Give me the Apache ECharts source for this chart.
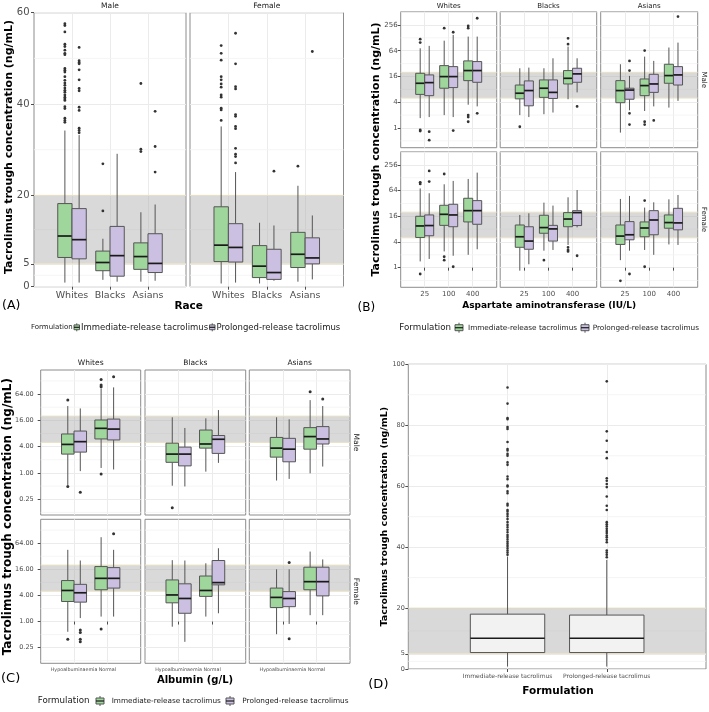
<!DOCTYPE html>
<html>
<head>
<meta charset="utf-8">
<script src="https://cdn.jsdelivr.net/npm/echarts@6/dist/echarts.min.js"></script>
<style>
html, body { margin: 0; padding: 0; background: #fff; }
#chart { width: 709px; height: 712px; }
</style>
</head>
<body>
<div id="chart"></div>
<script>
const FONT = 'DejaVu Sans';
const IR_FILL = '#9fd69b';
const PR_FILL = '#cbc0e1';
const ONE_FILL = '#f2f2f2';
const LINE = '#555555';
const TXT = '#4d4d4d';

// therapeutic range, ng/mL
const targetRange = [5, 20];

// (A) trough by race, facets Male / Female ; box = [lo, q1, median, q3, hi]
const raceCats = ['Whites', 'Blacks', 'Asians'];
const raceTicks = [0, 5, 20, 40, 60];
const raceMinor = [2.5, 12.5, 30, 50];
const raceBoxIR = [
	[[0.9, 6.4, 11.1, 18.2, 34.2], [1.5, 3.5, 5.3, 7.8, 10.5], [1.1, 3.8, 6.6, 9.6, 16.3]],
	[[0.7, 5.5, 9.1, 17.5, 35.1], [0.7, 2.0, 4.5, 9.0, 14.0], [1.1, 4.2, 7.1, 11.9, 22.1]]
];
const raceBoxPR = [
	[[0.9, 6.1, 10.3, 17.1, 33.2], [1.1, 2.3, 6.8, 13.2, 29.1], [1.3, 3.1, 5.1, 11.6, 18.0]],
	[[0.9, 5.4, 8.6, 13.8, 25.1], [1.3, 1.6, 3.1, 8.2, 13.4], [1.6, 5.0, 6.3, 10.7, 15.6]]
];
const raceOutIR = [
	[[57.6, 57.2, 55.8, 53.1, 52.6, 51.8, 51.1, 50.8, 47.8, 47.4, 47.0, 46.0, 45.2, 44.6, 44.1, 43.5, 43.0, 42.6, 42.0, 41.5, 41.1, 40.8, 39.4, 39.0, 36.9, 36.4, 36.0], [26.9, 16.6], [44.5, 30.1, 29.6]],
	[[52.8, 51.1, 49.6, 46.0, 45.3, 44.4, 43.7, 42.0, 41.5, 39.1, 38.7, 36.4], [], [26.4]]
];
const raceOutPR = [
	[[52.4, 49.5, 49.1, 48.8, 47.5, 45.3, 43.4, 42.9, 39.3, 38.6, 34.7, 34.2, 33.7], [], [38.4, 30.7, 25.1]],
	[[55.5, 48.8, 43.8, 43.3, 37.7, 37.3, 35.1, 34.6, 30.3, 29.0, 28.5, 27.1], [25.3], [51.5]]
];

// (B) trough by AST; facets: Male W/B/A, Female W/B/A
const astCats = ['25', '100', '400'];
const astTicks = [1, 4, 16, 64, 256];
const astMinor = [0.5, 2, 8, 32, 128, 512];
const astBoxIR = [
	[[1.7, 6.1, 11.1, 19.0, 73], [2.0, 8.5, 15.9, 28.7, 110], [3.5, 12.8, 22, 37, 137]],
	[[2.0, 4.8, 6.5, 10.1, 24.9], [2.1, 5.2, 8.5, 13.3, 24.9], [4.7, 10.7, 14.5, 22, 80]],
	[[0.78, 3.9, 7.5, 12.8, 30.9], [2.5, 5.7, 9.8, 14, 46.6], [3.0, 11.1, 16.8, 30.9, 76]],
	[[1.4, 5.1, 9.5, 16, 72], [2.4, 9.8, 17.8, 29, 90], [2.0, 11.8, 21.7, 42.3, 120]],
	[[0.85, 3.0, 5.3, 10, 17.2], [2.5, 6.4, 8.7, 16.9, 33.4], [3.4, 9.1, 13.8, 19.5, 44.6]],
	[[1.5, 3.5, 5.5, 10, 40.8], [2.6, 5.3, 8.5, 11.8, 25.6], [3.5, 8.4, 11.4, 17.2, 40]]
];
const astBoxPR = [
	[[1.8, 5.7, 11.5, 17.4, 83], [1.8, 8.8, 15.9, 27.2, 150], [3.2, 11.7, 22, 35.7, 137]],
	[[1.8, 3.3, 7.5, 12.6, 25.8], [2.3, 4.9, 6.8, 13.3, 42.6], [6.8, 11.7, 18.4, 24.9, 42.6]],
	[[2.6, 4.7, 7.7, 8.5, 16.5], [3.2, 6.8, 10.7, 18, 37], [4.3, 10.1, 17.4, 27.2, 99]],
	[[1.6, 5.6, 9.7, 17.2, 55.5], [1.9, 9.1, 17.2, 30.6, 108], [2.7, 10.4, 21.7, 37.3, 169]],
	[[1.2, 2.7, 4.2, 9.1, 18.8], [2.6, 4.2, 8.1, 9.8, 28.5], [8.8, 9.7, 19.5, 21.7, 66]],
	[[2.5, 4.5, 5.9, 12, 48], [2.0, 5.9, 13.1, 21.7, 34], [3.4, 7.7, 11.2, 24.6, 50.6]]
];
const astOutIR = [
	[[119, 99, 0.9, 0.85], [215], [243, 215, 2.0, 1.8, 1.4]],
	[[1.07], [], [125, 91]],
	[[], [64.5, 1.4, 1.2], []],
	[[100, 92, 0.71], [157, 1.8, 1.5], []],
	[[], [1.5], [3.0, 2.6, 2.4]],
	[[0.49], [37.3, 1.05], []]
];
const astOutPR = [
	[[0.82, 0.52], [173, 0.87], [367, 2.2]],
	[[], [], [3.2]],
	[[37, 22, 2.2, 1.2], [1.5], [402]],
	[[185, 104], [1.05], []],
	[[], [], [1.9]],
	[[0.71], [], []]
];

// (C) trough by albumin; facets: Male W/B/A, Female W/B/A
const albCats = ['Hypoalbuminaemia', 'Normal'];
const albTicks = [0.25, 1, 4, 16, 64];
const albMinor = [0.125, 0.5, 2, 8, 32, 128];
const albBoxIR = [
	[[0.53, 2.7, 4.5, 7.8, 34], [1.3, 6.0, 10.5, 16.3, 86]],
	[[0.51, 1.75, 2.7, 4.8, 18.8], [1.07, 3.7, 4.6, 9.6, 17.8]],
	[[0.67, 2.3, 3.7, 6.5, 18.8], [0.98, 3.5, 6.8, 10.9, 46.5]],
	[[0.58, 2.9, 5.2, 8.8, 45], [1.3, 5.4, 9.9, 18.5, 88]],
	[[0.76, 2.7, 4.1, 9.1, 26], [1.3, 3.8, 5.2, 11.2, 22]],
	[[0.51, 2.1, 3.6, 5.9, 16], [1.4, 5.4, 8.3, 17.9, 41]]
];
const albBoxPR = [
	[[1.1, 3.0, 5.2, 9.1, 30], [1.2, 5.7, 10.1, 17.1, 91]],
	[[0.49, 1.45, 2.7, 3.9, 10.7], [1.7, 2.8, 5.9, 7.2, 27.5]],
	[[0.73, 1.8, 3.5, 6.2, 16.9], [1.4, 4.6, 6.0, 11.5, 34]],
	[[1.2, 2.8, 4.6, 7.2, 25.5], [1.3, 5.9, 9.9, 17.5, 45]],
	[[0.34, 1.55, 3.4, 7.4, 25.5], [1.55, 7.0, 7.9, 25.5, 49]],
	[[0.88, 2.2, 3.4, 4.9, 16], [1.4, 3.9, 8.3, 17.9, 27]]
];
const albOutIR = [
	[[46.5, 0.49], [138, 103, 94, 0.95]],
	[[0.16], []],
	[[], [72.5]],
	[[0.39], [0.67]],
	[[], []],
	[[], []]
];
const albOutPR = [
	[[0.36], [160]],
	[[], []],
	[[], [49]],
	[[0.64, 0.56, 0.39, 0.34], [105]],
	[[], []],
	[[23, 0.4], []]
];

// (D) overall by formulation
const formCats = ['Immediate-release tacrolimus', 'Prolonged-release tacrolimus'];
const formTicks = [0, 5, 20, 40, 60, 80, 100];
const formMinor = [2.5, 12.5, 30, 50, 70, 90];
const formBox = [[0.8, 5.4, 10.1, 18.0, 36.9], [0.8, 5.4, 10.1, 17.7, 35.8]];
const formOut = [
	[92.4, 87.1, 82.4, 82.0, 79.4, 78.8, 74.5, 72.2, 71.7, 70.6, 70.0, 67.8, 67.0, 63.2, 62.3, 60.2, 59.9, 58.3, 57.7, 54.2, 53.7, 52.2, 51.7, 50.9, 50.1, 49.2, 48.2, 47.3, 46.5, 45.7, 44.9, 44.0, 43.3, 42.6, 41.8, 41.1, 40.4, 39.6, 38.9, 38.2, 37.5],
	[94.4, 78.0, 74.9, 71.2, 69.2, 62.6, 61.8, 60.7, 59.7, 56.6, 53.6, 52.2, 48.2, 47.5, 46.8, 46.0, 45.3, 44.6, 43.8, 43.2, 42.4, 41.6, 38.9, 38.2, 37.5, 36.7]
];

let chart = echarts.init(document.getElementById('chart'), null, {renderer: 'canvas'});
let option = {animation: false, backgroundColor: '#fff', grid: [], xAxis: [], yAxis: [], series: [], graphic: []};

const lin = v => v;
const lg2 = v => Math.log2(v);

function fillOf(side){
	return side < 0 ? IR_FILL : (side > 0 ? PR_FILL : ONE_FILL);
}

function addPanel(p){
	let gi = option.grid.length;
	let tf = p.tf;
	option.grid.push({left: p.rect[0], top: p.rect[1], width: p.rect[2], height: p.rect[3],
		show: true, borderColor: '#8c8c8c', borderWidth: 1});
	option.xAxis.push({
		type: 'category', gridIndex: gi, data: [''].concat(p.cats, ['']), boundaryGap: false,
		axisLine: {show: false},
		axisTick: {show: p.showX, interval: (i, v) => v !== '', length: 3, lineStyle: {color: TXT}},
		axisLabel: {show: p.showX, interval: 0, fontFamily: FONT, fontSize: p.xFont, color: TXT, margin: p.xMargin},
		splitLine: {show: true, interval: (i, v) => v !== '', lineStyle: {color: '#ebebeb', width: 1}}
	});
	let majors = p.majors.map(tf);
	option.yAxis.push({
		type: 'value', gridIndex: gi, min: p.yRange[0], max: p.yRange[1],
		axisLine: {show: false},
		axisTick: {show: p.showY, customValues: majors, length: 3, lineStyle: {color: TXT}},
		axisLabel: {show: p.showY, customValues: majors, formatter: p.fmt, fontFamily: FONT,
			fontSize: p.yFont, color: TXT, margin: p.yMargin},
		splitLine: {show: true, lineStyle: {color: '#ebebeb', width: 1}}
	});

	// minor grid lines
	option.series.push({
		type: 'custom', xAxisIndex: gi, yAxisIndex: gi, silent: true, z: 1,
		encode: {x: 0, y: 1},
		data: p.minors.map(v => [0, tf(v)]),
		renderItem: (params, api) => {
			let cs = params.coordSys;
			let y = api.coord([0, api.value(1)])[1];
			if(y < cs.y || y > cs.y + cs.height){ return null; }
			return {type: 'line', shape: {x1: cs.x, y1: y, x2: cs.x + cs.width, y2: y},
				style: {stroke: '#f2f2f2', lineWidth: 0.8}};
		}
	});

	// target band
	option.series.push({
		type: 'custom', xAxisIndex: gi, yAxisIndex: gi, silent: true, z: 2,
		encode: {x: 0, y: [1, 2]},
		data: [[0, tf(targetRange[0]), tf(targetRange[1])]],
		renderItem: (params, api) => {
			let cs = params.coordSys;
			let y0 = api.coord([0, api.value(1)])[1];
			let y1 = api.coord([0, api.value(2)])[1];
			return {type: 'group', children: [
				{type: 'rect', shape: {x: cs.x, y: y1, width: cs.width, height: y0 - y1}, style: {fill: 'rgba(170,170,170,0.45)'}},
				{type: 'line', shape: {x1: cs.x, y1: y1, x2: cs.x + cs.width, y2: y1}, style: {stroke: '#ebe2c4', lineWidth: 1}},
				{type: 'line', shape: {x1: cs.x, y1: y0, x2: cs.x + cs.width, y2: y0}, style: {stroke: '#ebe2c4', lineWidth: 1}}
			]};
		}
	});

	let boxData = [], outData = [];
	p.groups.forEach(g => {
		g.boxes.forEach((b, i) => {
			boxData.push([i + 1, g.side].concat(b.map(tf)));
			(g.outs[i] || []).forEach(v => outData.push([i + 1, g.side, tf(v)]));
		});
	});

	let centerOf = (api, c, side, y) => {
		let a = api.coord([c, y])[0];
		let unit = api.coord([c + 1, y])[0] - a;
		return {x: a + side * unit * p.bw / 2, unit: unit};
	};

	option.series.push({
		type: 'custom', xAxisIndex: gi, yAxisIndex: gi, silent: true, z: 3,
		encode: {x: 0, y: [2, 3, 4, 5, 6]},
		data: boxData,
		renderItem: (params, api) => {
			let c = api.value(0), side = api.value(1);
			let cc = centerOf(api, c, side, api.value(4));
			let xc = cc.x, w = cc.unit * p.bw;
			let yy = [2, 3, 4, 5, 6].map(d => api.coord([c, api.value(d)])[1]);
			return {type: 'group', children: [
				{type: 'line', shape: {x1: xc, y1: yy[4], x2: xc, y2: yy[3]}, style: {stroke: LINE, lineWidth: 1}},
				{type: 'line', shape: {x1: xc, y1: yy[1], x2: xc, y2: yy[0]}, style: {stroke: LINE, lineWidth: 1}},
				{type: 'rect', shape: {x: xc - w / 2, y: yy[3], width: w, height: yy[1] - yy[3]},
					style: {fill: fillOf(side), stroke: LINE, lineWidth: 1}},
				{type: 'line', shape: {x1: xc - w / 2, y1: yy[2], x2: xc + w / 2, y2: yy[2]}, style: {stroke: '#1a1a1a', lineWidth: 1.7}}
			]};
		}
	});

	option.series.push({
		type: 'custom', xAxisIndex: gi, yAxisIndex: gi, silent: true, z: 4,
		encode: {x: 0, y: 2},
		data: outData,
		renderItem: (params, api) => {
			let c = api.value(0), side = api.value(1);
			let cc = centerOf(api, c, side, api.value(2));
			let y = api.coord([c, api.value(2)])[1];
			return {type: 'circle', shape: {cx: cc.x, cy: y, r: p.pt}, style: {fill: '#333'}};
		}
	});
}

// ---- panel A
const raceRects = [[34, 12.7, 152, 274], [190, 12.7, 153.5, 274]];
raceRects.forEach((r, f) => {
	addPanel({rect: r, cats: raceCats, tf: lin, yRange: [0, 60], majors: raceTicks, minors: raceMinor,
		fmt: v => String(v), showX: true, showY: f === 0, xFont: 9.5, yFont: 10, xMargin: 4, yMargin: 4.5,
		bw: 0.375, pt: 1.4,
		groups: [{side: -1, boxes: raceBoxIR[f], outs: raceOutIR[f]}, {side: 1, boxes: raceBoxPR[f], outs: raceOutPR[f]}]});
});

// ---- panel B
const bLefts = [400.7, 500.2, 600.7], bWidths = [96, 96.5, 97];
const bTops = [11.7, 151.7], bHeights = [136, 135.6];
for(let row = 0; row < 2; row++){
	for(let col = 0; col < 3; col++){
		let f = row * 3 + col;
		addPanel({rect: [bLefts[col], bTops[row], bWidths[col], bHeights[row]], cats: astCats, tf: lg2,
			yRange: [-1.53, 9.03], majors: astTicks, minors: astMinor,
			fmt: v => String(Math.round(Math.pow(2, v))), showX: row === 1, showY: col === 0,
			xFont: 7, yFont: 7, xMargin: 3.5, yMargin: 3, bw: 0.375, pt: 1.4,
			groups: [{side: -1, boxes: astBoxIR[f], outs: astOutIR[f]}, {side: 1, boxes: astBoxPR[f], outs: astOutPR[f]}]});
	}
}

// ---- panel C
const cLefts = [40.7, 145, 249.3], cWidths = [100, 100.7, 100.7];
const cTops = [370, 519.3], cHeights = [145, 144];
for(let row = 0; row < 2; row++){
	for(let col = 0; col < 3; col++){
		let f = row * 3 + col;
		addPanel({rect: [cLefts[col], cTops[row], cWidths[col], cHeights[row]], cats: albCats, tf: lg2,
			yRange: [-3.2, 7.83], majors: albTicks, minors: albMinor,
			fmt: v => Math.pow(2, v).toFixed(2), showX: row === 1, showY: col === 0,
			xFont: 4.8, yFont: 6.5, xMargin: 3.5, yMargin: 7, bw: 0.375, pt: 1.5,
			groups: [{side: -1, boxes: albBoxIR[f], outs: albOutIR[f]}, {side: 1, boxes: albBoxPR[f], outs: albOutPR[f]}]});
	}
}

// ---- panel D
addPanel({rect: [408.3, 364.3, 298.4, 304.7], cats: formCats, tf: lin, yRange: [0, 100], majors: formTicks, minors: formMinor,
	fmt: v => String(v), showX: true, showY: true, xFont: 6, yFont: 6.5, xMargin: 4.5, yMargin: 3.5,
	bw: 0.75, pt: 1.3,
	groups: [{side: 0, boxes: formBox, outs: formOut}]});

// ---- texts
function txt(s, x, y, size, o){
	o = o || {};
	return {type: 'text', x: x, y: y, rotation: o.rot || 0, silent: true, z: 10,
		style: {text: s, fontFamily: FONT, fontSize: size, fontWeight: o.bold ? 'bold' : 'normal',
			fill: o.color || '#1a1a1a', align: o.align || 'center', textAlign: o.align || 'center',
			verticalAlign: 'middle', textVerticalAlign: 'middle'}};
}

let g = option.graphic;
// strips
g.push(txt('Male', 110, 6, 7.5), txt('Female', 266.7, 6, 7.5));
['Whites', 'Blacks', 'Asians'].forEach((s, i) => {
	g.push(txt(s, bLefts[i] + bWidths[i] / 2, 6.5, 7));
	g.push(txt(s, cLefts[i] + cWidths[i] / 2, 363.3, 7.5));
});
g.push(txt('Male', 704.3, 79.7, 7, {rot: -Math.PI / 2}), txt('Female', 704.3, 219.5, 7, {rot: -Math.PI / 2}));
g.push(txt('Male', 356.3, 442.5, 7.5, {rot: -Math.PI / 2}), txt('Female', 356.3, 591.3, 7.5, {rot: -Math.PI / 2}));

// axis titles
const yTitle = 'Tacrolimus trough concentration (ng/mL)';
g.push(txt(yTitle, 9.3, 147, 11, {rot: Math.PI / 2, bold: true, color: '#000'}));
g.push(txt(yTitle, 375.7, 149.5, 11, {rot: Math.PI / 2, bold: true, color: '#000'}));
g.push(txt(yTitle, 8.3, 516.7, 12, {rot: Math.PI / 2, bold: true, color: '#000'}));
g.push(txt(yTitle, 384.3, 516.7, 9.5, {rot: Math.PI / 2, bold: true, color: '#000'}));
g.push(txt('Race', 188.7, 306.5, 10.5, {bold: true, color: '#000'}));
g.push(txt('Aspartate aminotransferase (IU/L)', 549.2, 306, 9, {bold: true, color: '#000'}));
g.push(txt('Albumin (g/L)', 195, 680, 10, {bold: true, color: '#000'}));
g.push(txt('Formulation', 558, 691, 10.5, {bold: true, color: '#000'}));

// panel letters
g.push(txt('(A)', 2, 306, 12.5, {align: 'left', color: '#000'}));
g.push(txt('(B)', 357.5, 308, 12, {align: 'left', color: '#000'}));
g.push(txt('(C)', 1, 679, 13, {align: 'left', color: '#000'}));
g.push(txt('(D)', 368.3, 685, 13, {align: 'left', color: '#000'}));

// legends
function legendKey(x, yc, w, h, fill){
	return {type: 'group', silent: true, z: 10, children: [
		{type: 'line', shape: {x1: x + w / 2, y1: yc - h / 2, x2: x + w / 2, y2: yc + h / 2}, style: {stroke: LINE, lineWidth: 1}},
		{type: 'rect', shape: {x: x, y: yc - h * 0.3, width: w, height: h * 0.6}, style: {fill: fill, stroke: LINE, lineWidth: 1}},
		{type: 'line', shape: {x1: x, y1: yc, x2: x + w, y2: yc}, style: {stroke: '#1a1a1a', lineWidth: 1.2}}
	]};
}
function legendRow(l){
	g.push(txt('Formulation', l.titleX, l.y, l.titleSize, {align: 'left'}));
	g.push(legendKey(l.keys[0], l.y, l.keyW, l.keyH, IR_FILL));
	g.push(txt(formCats[0], l.labels[0], l.y, l.labelSize, {align: 'left'}));
	g.push(legendKey(l.keys[1], l.y, l.keyW, l.keyH, PR_FILL));
	g.push(txt(formCats[1], l.labels[1], l.y, l.labelSize, {align: 'left'}));
}
legendRow({y: 327.3, titleX: 31, titleSize: 7, keys: [74, 209.5], labels: [81, 216.5], keyW: 5.5, keyH: 8, labelSize: 8.5});
legendRow({y: 327.7, titleX: 399.3, titleSize: 8.7, keys: [455, 581], labels: [468, 592.7], keyW: 8, keyH: 10, labelSize: 7.3});
legendRow({y: 701, titleX: 37.7, titleSize: 8.7, keys: [96, 226], labels: [111.7, 242.3], keyW: 8, keyH: 10, labelSize: 7.3});

chart.setOption(option);
</script>
</body>
</html>
